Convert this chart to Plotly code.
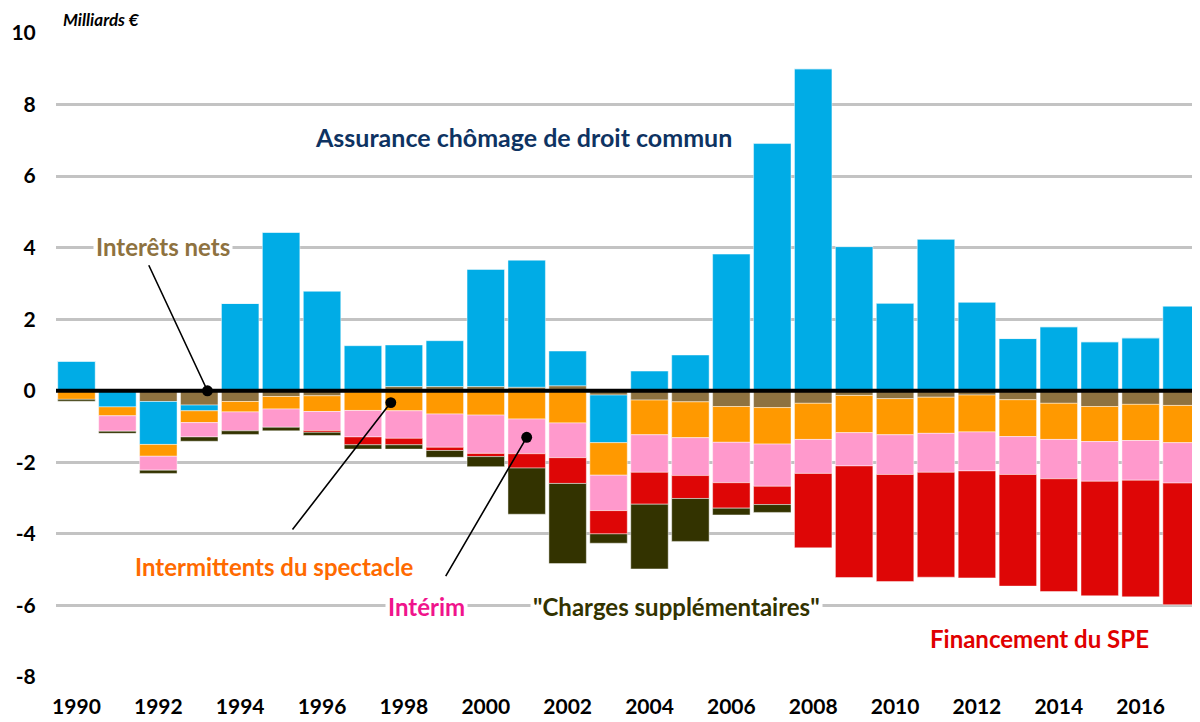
import plotly.graph_objects as go

years = list(range(1990, 2018))

assurance = [0.83, -0.45, -1.20, -0.16, 2.44, 4.43, 2.78, 1.26, 1.16, 1.28,
             3.27, 3.55, 0.97, -1.33, 0.55, 1.00, 3.82, 6.91, 9.00, 4.03,
             2.45, 4.24, 2.48, 1.46, 1.79, 1.37, 1.48, 2.37]
interets = [-0.02, 0.00, -0.30, -0.40, -0.30, -0.16, -0.14, -0.03, 0.12, 0.12,
            0.12, 0.10, 0.14, -0.12, -0.26, -0.31, -0.44, -0.47, -0.35, -0.13,
            -0.22, -0.18, -0.12, -0.25, -0.35, -0.44, -0.38, -0.41]
intermittents = [-0.22, -0.25, -0.33, -0.33, -0.29, -0.35, -0.44, -0.52, -0.56, -0.65,
                 -0.68, -0.79, -0.90, -0.91, -0.97, -1.00, -1.00, -1.02, -1.01, -1.04,
                 -1.01, -1.01, -1.03, -1.03, -1.01, -0.98, -1.01, -1.04]
interim = [0.00, -0.43, -0.39, -0.40, -0.53, -0.51, -0.53, -0.74, -0.77, -0.93,
           -1.07, -0.97, -0.97, -0.99, -1.05, -1.06, -1.13, -1.18, -0.95, -0.93,
           -1.11, -1.09, -1.09, -1.06, -1.10, -1.11, -1.11, -1.13]
financement_spe = [0.00, 0.00, 0.00, 0.00, 0.00, 0.00, -0.05, -0.22, -0.18, -0.09,
                   -0.09, -0.40, -0.72, -0.65, -0.89, -0.64, -0.71, -0.51, -2.08, -3.12,
                   -2.99, -2.93, -2.99, -3.12, -3.15, -3.20, -3.26, -3.40]
charges_supp = [-0.05, -0.06, -0.09, -0.12, -0.10, -0.10, -0.09, -0.12, -0.12, -0.19,
                -0.28, -1.29, -2.24, -0.26, -1.81, -1.20, -0.19, -0.22, 0.00, 0.00,
                0.00, 0.00, 0.00, 0.00, 0.00, 0.00, 0.00, 0.00]

series = [
    ("Interêts nets", interets, "#8E7240"),
    ("Assurance chômage de droit commun", assurance, "#00ACE6"),
    ("Intermittents du spectacle", intermittents, "#FF9900"),
    ("Intérim", interim, "#FF99CC"),
    ("Financement du SPE", financement_spe, "#DE0606"),
    ("\"Charges supplémentaires\"", charges_supp, "#333300"),
]

y_ticks = list(range(-8, 11, 2))
x_ticks = list(range(1990, 2017, 2))

FONT = "Lato"

fig = go.Figure()
for name, vals, col in series:
    fig.add_trace(go.Bar(
        x=years, y=vals, name=name,
        marker=dict(color=col, line=dict(color="rgba(255,255,255,0.45)", width=1)),
    ))

# page body adds an 8px offset; the figure is sized so the plot lands where the reference has it
fig.update_layout(
    barmode="relative",
    bargap=0.085,
    width=1192, height=714,
    margin=dict(l=48, r=0, t=25, b=45),
    paper_bgcolor="white", plot_bgcolor="white",
    showlegend=False,
    font=dict(family=FONT, color="black"),
)
fig.update_xaxes(
    range=[1989.5, 2017.45],
    tickvals=x_ticks, ticktext=[f"<b>{t}</b>" for t in x_ticks],
    tickfont=dict(size=21, family=FONT, color="black"),
    showgrid=False, zeroline=False, showline=False,
    ticks="outside", ticklen=11, tickcolor="rgba(0,0,0,0)",
)
fig.update_yaxes(
    range=[-8, 10],
    tickvals=y_ticks, ticktext=[f"<b>{t}</b>" for t in y_ticks],
    tickfont=dict(size=21, family=FONT, color="black"),
    showgrid=True, gridcolor="#C3C3C3", gridwidth=2.5,
    zeroline=False, showline=False,
    ticks="outside", ticklen=15, tickcolor="rgba(0,0,0,0)",
)

# zero line on top of the bars
fig.add_shape(type="line", xref="paper", yref="y", x0=0, x1=1, y0=0, y1=0,
              line=dict(color="black", width=4), layer="above")

def label(text, x, y, color, size=24, bg="white"):
    fig.add_annotation(x=x, y=y, xref="x", yref="y", text=f"<b>{text}</b>",
                       showarrow=False, font=dict(family=FONT, size=size, color=color),
                       bgcolor=bg, borderpad=2)

label("Assurance chômage de droit commun", 2000.93, 7.09, "#0E3362", size=25, bg="rgba(0,0,0,0)")
label("Interêts nets", 1992.12, 4.04, "#8E7240")
label("Intermittents du spectacle", 1994.83, -4.9, "#FF6A00")
label("Intérim", 1998.55, -6.02, "#F0148C")
label("\"Charges supplémentaires\"", 2004.65, -6.02, "#333300")
label("Financement du SPE", 2013.52, -6.92, "#E00000", bg="rgba(0,0,0,0)")

def pointer(x_tip, y_tip, x_tail, y_tail):
    fig.add_annotation(x=x_tip, y=y_tip, ax=x_tail, ay=y_tail,
                       xref="x", yref="y", axref="x", ayref="y",
                       text="", showarrow=True, arrowhead=6, arrowsize=1.7,
                       arrowwidth=1.6, arrowcolor="black")

pointer(1993.2, 0.0, 1991.75, 3.55)
pointer(1997.68, -0.33, 1995.25, -3.92)
pointer(2001.0, -1.3, 1999.0, -5.22)

fig.add_annotation(xref="paper", yref="paper", x=0.0, y=1.0, xshift=5, yshift=14,
                   xanchor="left", yanchor="middle", showarrow=False,
                   text="<b><i>Milliards €</i></b>",
                   font=dict(family=FONT, size=17, color="black"))

fig.write_html("out.html")
